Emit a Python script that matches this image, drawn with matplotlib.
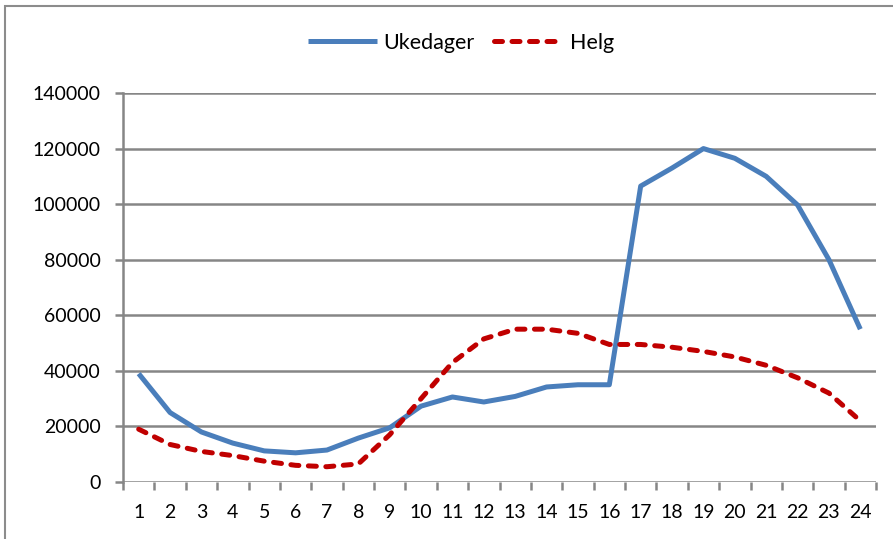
import matplotlib.pyplot as plt
from matplotlib.patches import Rectangle

plt.rcParams['font.family'] = ['Lato', 'DejaVu Sans']

# Time of day (hour) and traffic counts
hours = list(range(1, 25))
ukedager = [39000, 25000, 18000, 14000, 11200, 10500, 11500, 15800, 19500, 27300,
            30600, 28800, 30800, 34200, 35000, 35000, 106500, 113000, 120000, 116500,
            110000, 99700, 80000, 55000]
helg = [19000, 13500, 11000, 9500, 7500, 6000, 5500, 6500, 17000, 30000,
        43000, 51500, 55000, 55000, 53500, 49500, 49500, 48500, 47000, 45000,
        42000, 37500, 32000, 22000]
y_ticks = list(range(0, 140001, 20000))

grid_col = '#868686'

fig = plt.figure(figsize=(8.93, 5.39), dpi=100)
ax = fig.add_axes([123 / 893, 1 - 482 / 539, (876 - 123) / 893, (482 - 93) / 539])

# chart border (only top/left visible in the crop)
fig.patches.append(Rectangle((5 / 893, -0.5), 2, 0.5 + 1 - 6 / 539, transform=fig.transFigure,
                             fill=False, edgecolor='#8c8c8c', linewidth=1.5))

ax.plot(hours, ukedager, color='#4A7EBB', lw=3.6, label='Ukedager', solid_capstyle='butt', zorder=3)
ax.plot(hours, helg, color='#C00000', lw=3.6, label='Helg', dashes=(1.6, 1.9),
        dash_capstyle='round', zorder=3)

ax.set_xlim(0.5, 24.5)
ax.set_ylim(0, 140000)
ax.set_yticks(y_ticks)
ax.set_yticklabels([str(v) for v in y_ticks])
ax.set_xticks(hours)
ax.set_xticks([h + 0.5 for h in range(0, 25)], minor=True)

for v in y_ticks:
    ax.axhline(v, color=grid_col, lw=1.8, zorder=1)

for s in ['top', 'right', 'bottom']:
    ax.spines[s].set_visible(False)
ax.spines['left'].set_color(grid_col)
ax.spines['left'].set_linewidth(1.8)

ax.tick_params(axis='x', which='major', length=0, pad=16, labelsize=14)
ax.tick_params(axis='x', which='minor', length=6, width=1.8, color=grid_col, direction='out')
ax.tick_params(axis='y', length=6, width=1.8, color=grid_col, pad=10, labelsize=14)

fig.legend(loc='center', bbox_to_anchor=(461 / 893, 1 - 43 / 539), ncol=2, frameon=False,
           fontsize=15.5, handlelength=3.2, columnspacing=0.9, handletextpad=0.3)

fig.savefig('out.png', dpi=100)
